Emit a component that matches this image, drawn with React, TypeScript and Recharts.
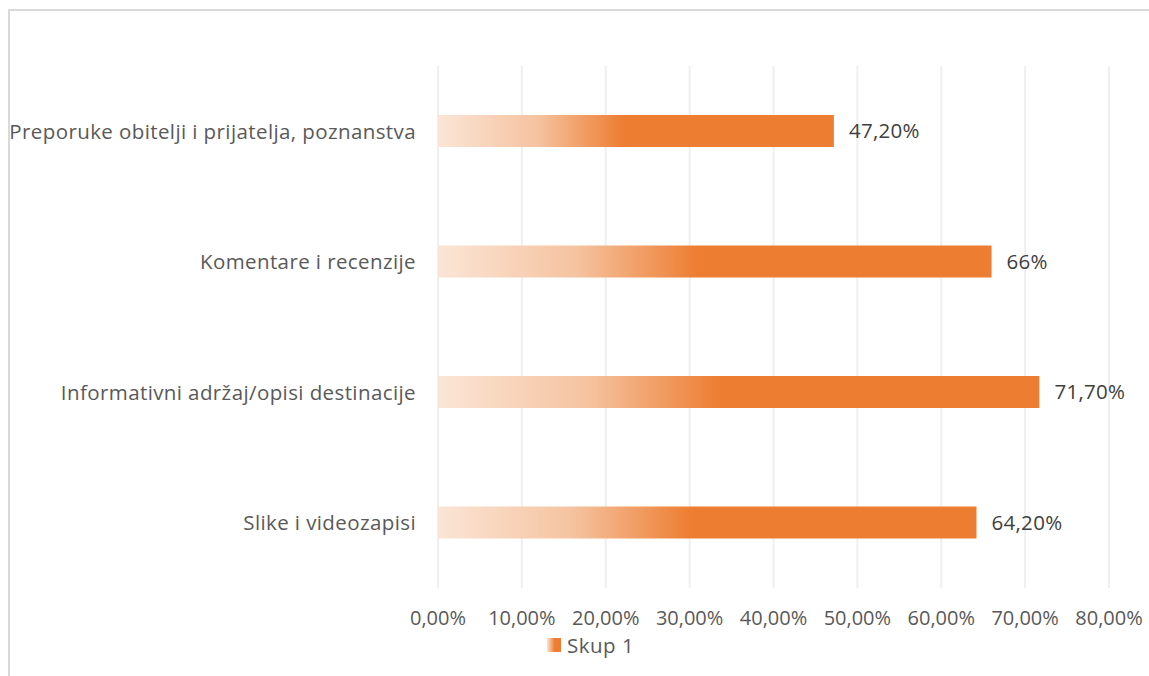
import { BarChart, Bar, XAxis, YAxis, CartesianGrid, Legend, LabelList } from 'recharts'

const categories = [
  'Preporuke obitelji i prijatelja, poznanstva',
  'Komentare i recenzije',
  'Informativni adržaj/opisi destinacije',
  'Slike i videozapisi',
]
const values = [0.472, 0.66, 0.717, 0.642]
const valueLabels = ['47,20%', '66%', '71,70%', '64,20%']
const xTicks = [0, 0.1, 0.2, 0.3, 0.4, 0.5, 0.6, 0.7, 0.8]
const seriesName = 'Skup 1'

const FONT = '"Open Sans", "Noto Sans", sans-serif'
const TEXT = '#595959'
const ORANGE = '#ED7D31'

const data = categories.map((name, i) => ({ name, value: values[i], label: valueLabels[i] }))

const fmtPct = (v: number) => `${(v * 100).toFixed(2).replace('.', ',')}%`

function LegendBox() {
  return (
    <div style={{ display: 'flex', alignItems: 'center', fontFamily: FONT, fontSize: 20.5, letterSpacing: 0.5, color: TEXT }}>
      <span
        style={{
          display: 'inline-block',
          width: 14,
          height: 14,
          marginRight: 6,
          background: `linear-gradient(to right, #FBE5D6, ${ORANGE} 55%)`,
        }}
      />
      {seriesName}
    </div>
  )
}

export default function App() {
  return (
    <div style={{ position: 'absolute', left: 0, top: 0, width: 1149, height: 676, overflow: 'hidden', background: '#fff' }}>
      {/* chart frame, cut off at the right and bottom in the original */}
      <div
        style={{
          position: 'absolute',
          left: 8,
          top: 9,
          width: 1149,
          height: 676,
          borderTop: '2px solid #d9d9d9',
          borderLeft: '2px solid #d9d9d9',
        }}
      />
      <div style={{ position: 'absolute', left: 0, top: 0 }}>
        <BarChart
          width={1149}
          height={676}
          data={data}
          layout="vertical"
          margin={{ top: 66, right: 40, bottom: 58, left: 0 }}
          barCategoryGap={0}
        >
          <defs>
            <linearGradient id="barFill" x1="0" y1="0" x2="1" y2="0">
              <stop offset="0%" stopColor="#FBE5D6" />
              <stop offset="25%" stopColor="#F5C3A0" />
              <stop offset="47%" stopColor={ORANGE} />
              <stop offset="100%" stopColor={ORANGE} />
            </linearGradient>
          </defs>
          <CartesianGrid horizontal={false} stroke="#efefef" strokeWidth={2} />
          <XAxis
            type="number"
            domain={[0, 0.8]}
            ticks={xTicks}
            tickFormatter={fmtPct}
            axisLine={false}
            tickLine={false}
            tickMargin={17}
            height={30}
            interval={0}
            tick={{ fill: TEXT, fontSize: 20, fontFamily: FONT }}
          />
          <YAxis
            type="category"
            dataKey="name"
            width={438}
            axisLine={false}
            tickLine={false}
            tickMargin={16}
            tick={{ fill: TEXT, fontSize: 20.5, fontFamily: FONT, letterSpacing: 0.4 }}
          />
          <Legend
            layout="horizontal"
            verticalAlign="middle"
            align="center"
            wrapperStyle={{ top: 631, left: 547, width: 'auto' }}
            content={() => <LegendBox />}
          />
          <Bar dataKey="value" name={seriesName} fill="url(#barFill)" barSize={32} isAnimationActive={false}>
            <LabelList
              dataKey="label"
              position="right"
              offset={15}
              fill="#404040"
              fontSize={20.5}
              fontFamily={FONT}
              letterSpacing={0.3}
            />
          </Bar>
        </BarChart>
      </div>
    </div>
  )
}
